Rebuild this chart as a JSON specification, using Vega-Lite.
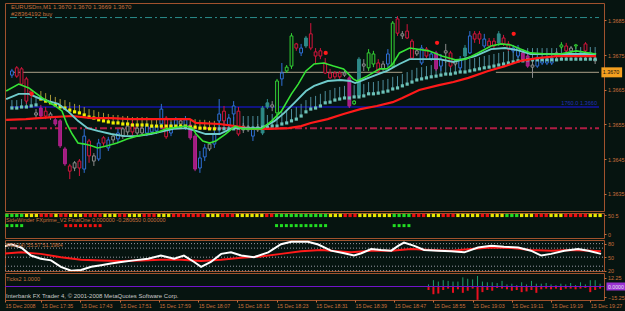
{
"$schema":"https://vega.github.io/schema/vega-lite/v6.json",
"background":"#061410",
"padding":{"left":4,"top":2,"right":6,"bottom":12},
"spacing":2,
"bounds":"flush",
"resolve":{"scale":{"color":"independent","fill":"independent","stroke":"independent","strokeWidth":"independent","strokeDash":"independent"}},
"config":{
 "view":{"stroke":"#a0522d","strokeWidth":1},
 "axis":{"labelFont":"Liberation Sans, sans-serif","labelFontSize":5.4,"labelColor":"#c8703c","tickColor":"#c8703c","tickSize":2,"domain":false,"grid":false,"labelPadding":1.5,"labelOverlap":false,"labelBound":false,"zindex":2},
 "text":{"font":"Liberation Sans, sans-serif","fontSize":5.8}
},
"datasets":{
 "hl":[
  {"name":"tp","v":1.36858,"k1":0.6,"k2":122.8},
  {"name":"open","v":1.3670,"k1":0.6,"k2":82},
  {"name":"open","v":1.3670,"k1":101.4,"k2":122.8},
  {"name":"blue","v":1.3660,"k1":0.6,"k2":122.8},
  {"name":"sl","v":1.36539,"k1":0.6,"k2":122.8}
 ],
 "candles":[
{"k":1,"cls":"b","hi":1.36710,"top":1.36704,"bot":1.36692,"lo":1.36684},
{"k":2,"cls":"r","hi":1.36718,"top":1.36713,"bot":1.36689,"lo":1.36684},
{"k":3,"cls":"r","hi":1.36715,"top":1.36710,"bot":1.36666,"lo":1.36661},
{"k":4,"cls":"r","hi":1.36687,"top":1.36681,"bot":1.36617,"lo":1.36609},
{"k":5,"cls":"r","hi":1.36652,"top":1.36646,"bot":1.36638,"lo":1.36626},
{"k":6,"cls":"g","hi":1.36594,"top":1.36583,"bot":1.36577,"lo":1.36565},
{"k":7,"cls":"m","hi":1.36606,"top":1.36597,"bot":1.36574,"lo":1.36565},
{"k":8,"cls":"r","hi":1.36600,"top":1.36588,"bot":1.36574,"lo":1.36565},
{"k":9,"cls":"g","hi":1.36586,"top":1.36580,"bot":1.36571,"lo":1.36563},
{"k":10,"cls":"m","hi":1.36571,"top":1.36563,"bot":1.36551,"lo":1.36545},
{"k":11,"cls":"m","hi":1.36565,"top":1.36560,"bot":1.36488,"lo":1.36482},
{"k":12,"cls":"m","hi":1.36485,"top":1.36479,"bot":1.36436,"lo":1.36430},
{"k":13,"cls":"r","hi":1.36436,"top":1.36430,"bot":1.36415,"lo":1.36392},
{"k":14,"cls":"g","hi":1.36444,"top":1.36439,"bot":1.36424,"lo":1.36415},
{"k":15,"cls":"r","hi":1.36450,"top":1.36444,"bot":1.36424,"lo":1.36401},
{"k":16,"cls":"b","hi":1.36537,"top":1.36516,"bot":1.36421,"lo":1.36410},
{"k":17,"cls":"r","hi":1.36508,"top":1.36502,"bot":1.36459,"lo":1.36439},
{"k":18,"cls":"g","hi":1.36467,"top":1.36459,"bot":1.36444,"lo":1.36430},
{"k":19,"cls":"b","hi":1.36508,"top":1.36496,"bot":1.36450,"lo":1.36444},
{"k":20,"cls":"r","hi":1.36516,"top":1.36511,"bot":1.36496,"lo":1.36488},
{"k":21,"cls":"b","hi":1.36514,"top":1.36505,"bot":1.36482,"lo":1.36473},
{"k":22,"cls":"g","hi":1.36522,"top":1.36516,"bot":1.36505,"lo":1.36496},
{"k":23,"cls":"b","hi":1.36537,"top":1.36525,"bot":1.36508,"lo":1.36496},
{"k":24,"cls":"g","hi":1.36542,"top":1.36537,"bot":1.36516,"lo":1.36508},
{"k":25,"cls":"g","hi":1.36551,"top":1.36545,"bot":1.36528,"lo":1.36519},
{"k":26,"cls":"r","hi":1.36560,"top":1.36551,"bot":1.36528,"lo":1.36519},
{"k":27,"cls":"g","hi":1.36548,"top":1.36539,"bot":1.36525,"lo":1.36516},
{"k":28,"cls":"g","hi":1.36545,"top":1.36539,"bot":1.36525,"lo":1.36516},
{"k":29,"cls":"b","hi":1.36554,"top":1.36545,"bot":1.36525,"lo":1.36516},
{"k":30,"cls":"b","hi":1.36548,"top":1.36542,"bot":1.36528,"lo":1.36519},
{"k":31,"cls":"b","hi":1.36551,"top":1.36545,"bot":1.36531,"lo":1.36522},
{"k":32,"cls":"b","hi":1.36609,"top":1.36594,"bot":1.36551,"lo":1.36537},
{"k":33,"cls":"r","hi":1.36574,"top":1.36568,"bot":1.36514,"lo":1.36508},
{"k":34,"cls":"b","hi":1.36557,"top":1.36548,"bot":1.36525,"lo":1.36516},
{"k":35,"cls":"b","hi":1.36571,"top":1.36563,"bot":1.36542,"lo":1.36537},
{"k":36,"cls":"g","hi":1.36565,"top":1.36560,"bot":1.36551,"lo":1.36545},
{"k":37,"cls":"b","hi":1.36574,"top":1.36563,"bot":1.36542,"lo":1.36534},
{"k":38,"cls":"m","hi":1.36557,"top":1.36548,"bot":1.36511,"lo":1.36505},
{"k":39,"cls":"m","hi":1.36522,"top":1.36516,"bot":1.36421,"lo":1.36415},
{"k":40,"cls":"b","hi":1.36473,"top":1.36453,"bot":1.36424,"lo":1.36410},
{"k":41,"cls":"b","hi":1.36493,"top":1.36482,"bot":1.36456,"lo":1.36444},
{"k":42,"cls":"g","hi":1.36499,"top":1.36493,"bot":1.36479,"lo":1.36473},
{"k":43,"cls":"b","hi":1.36537,"top":1.36522,"bot":1.36493,"lo":1.36482},
{"k":44,"cls":"b","hi":1.36623,"top":1.36580,"bot":1.36560,"lo":1.36525},
{"k":45,"cls":"r","hi":1.36603,"top":1.36588,"bot":1.36560,"lo":1.36545},
{"k":46,"cls":"b","hi":1.36580,"top":1.36568,"bot":1.36548,"lo":1.36537},
{"k":47,"cls":"b","hi":1.36617,"top":1.36603,"bot":1.36580,"lo":1.36560},
{"k":48,"cls":"r","hi":1.36600,"top":1.36588,"bot":1.36522,"lo":1.36516},
{"k":49,"cls":"g","hi":1.36554,"top":1.36545,"bot":1.36534,"lo":1.36525},
{"k":50,"cls":"g","hi":1.36548,"top":1.36542,"bot":1.36534,"lo":1.36528},
{"k":51,"cls":"b","hi":1.36545,"top":1.36537,"bot":1.36516,"lo":1.36502},
{"k":52,"cls":"g","hi":1.36551,"top":1.36542,"bot":1.36534,"lo":1.36528},
{"k":53,"cls":"t","hi":1.36603,"top":1.36597,"bot":1.36525,"lo":1.36519},
{"k":54,"cls":"t","hi":1.36623,"top":1.36612,"bot":1.36600,"lo":1.36594},
{"k":55,"cls":"g","hi":1.36617,"top":1.36606,"bot":1.36600,"lo":1.36588},
{"k":56,"cls":"G","hi":1.36681,"top":1.36675,"bot":1.36583,"lo":1.36565},
{"k":57,"cls":"b","hi":1.36727,"top":1.36698,"bot":1.36681,"lo":1.36661},
{"k":58,"cls":"G","hi":1.36721,"top":1.36715,"bot":1.36704,"lo":1.36698},
{"k":59,"cls":"G","hi":1.36813,"top":1.36805,"bot":1.36718,"lo":1.36710},
{"k":60,"cls":"r","hi":1.36785,"top":1.36782,"bot":1.36770,"lo":1.36762},
{"k":61,"cls":"b","hi":1.36782,"top":1.36770,"bot":1.36756,"lo":1.36747},
{"k":62,"cls":"t","hi":1.36805,"top":1.36799,"bot":1.36776,"lo":1.36770},
{"k":63,"cls":"r","hi":1.36842,"top":1.36811,"bot":1.36770,"lo":1.36764},
{"k":64,"cls":"r","hi":1.36770,"top":1.36759,"bot":1.36747,"lo":1.36724},
{"k":65,"cls":"r","hi":1.36770,"top":1.36762,"bot":1.36747,"lo":1.36738},
{"k":66,"cls":"r","hi":1.36741,"top":1.36727,"bot":1.36698,"lo":1.36695},
{"k":67,"cls":"r","hi":1.36710,"top":1.36698,"bot":1.36684,"lo":1.36681},
{"k":68,"cls":"r","hi":1.36704,"top":1.36698,"bot":1.36687,"lo":1.36681},
{"k":69,"cls":"r","hi":1.36704,"top":1.36698,"bot":1.36687,"lo":1.36681},
{"k":70,"cls":"g","hi":1.36704,"top":1.36698,"bot":1.36692,"lo":1.36687},
{"k":71,"cls":"m","hi":1.36689,"top":1.36684,"bot":1.36603,"lo":1.36597},
{"k":72,"cls":"G","hi":1.36620,"top":1.36617,"bot":1.36609,"lo":1.36606},
{"k":73,"cls":"t","hi":1.36744,"top":1.36738,"bot":1.36632,"lo":1.36626},
{"k":74,"cls":"g","hi":1.36738,"top":1.36724,"bot":1.36718,"lo":1.36704},
{"k":75,"cls":"G","hi":1.36767,"top":1.36756,"bot":1.36713,"lo":1.36704},
{"k":76,"cls":"G","hi":1.36762,"top":1.36753,"bot":1.36724,"lo":1.36715},
{"k":77,"cls":"r","hi":1.36738,"top":1.36727,"bot":1.36704,"lo":1.36698},
{"k":78,"cls":"g","hi":1.36733,"top":1.36724,"bot":1.36710,"lo":1.36704},
{"k":79,"cls":"b","hi":1.36767,"top":1.36753,"bot":1.36724,"lo":1.36715},
{"k":80,"cls":"G","hi":1.36848,"top":1.36842,"bot":1.36718,"lo":1.36715},
{"k":81,"cls":"r","hi":1.36862,"top":1.36854,"bot":1.36813,"lo":1.36805},
{"k":82,"cls":"g","hi":1.36819,"top":1.36811,"bot":1.36805,"lo":1.36796},
{"k":83,"cls":"r","hi":1.36839,"top":1.36819,"bot":1.36799,"lo":1.36796},
{"k":84,"cls":"r","hi":1.36796,"top":1.36790,"bot":1.36741,"lo":1.36736},
{"k":85,"cls":"g","hi":1.36767,"top":1.36762,"bot":1.36753,"lo":1.36747},
{"k":86,"cls":"b","hi":1.36779,"top":1.36770,"bot":1.36727,"lo":1.36721},
{"k":87,"cls":"r","hi":1.36773,"top":1.36767,"bot":1.36747,"lo":1.36741},
{"k":88,"cls":"b","hi":1.36759,"top":1.36753,"bot":1.36738,"lo":1.36733},
{"k":89,"cls":"m","hi":1.36762,"top":1.36756,"bot":1.36710,"lo":1.36704},
{"k":90,"cls":"b","hi":1.36753,"top":1.36738,"bot":1.36718,"lo":1.36704},
{"k":91,"cls":"g","hi":1.36782,"top":1.36762,"bot":1.36756,"lo":1.36727},
{"k":92,"cls":"r","hi":1.36762,"top":1.36756,"bot":1.36718,"lo":1.36713},
{"k":93,"cls":"g","hi":1.36738,"top":1.36733,"bot":1.36724,"lo":1.36718},
{"k":94,"cls":"b","hi":1.36747,"top":1.36738,"bot":1.36713,"lo":1.36704},
{"k":95,"cls":"t","hi":1.36779,"top":1.36770,"bot":1.36747,"lo":1.36741},
{"k":96,"cls":"b","hi":1.36819,"top":1.36805,"bot":1.36756,"lo":1.36753},
{"k":97,"cls":"r","hi":1.36819,"top":1.36811,"bot":1.36796,"lo":1.36785},
{"k":98,"cls":"r","hi":1.36819,"top":1.36811,"bot":1.36796,"lo":1.36782},
{"k":99,"cls":"b","hi":1.36811,"top":1.36796,"bot":1.36776,"lo":1.36770},
{"k":100,"cls":"r","hi":1.36799,"top":1.36790,"bot":1.36776,"lo":1.36770},
{"k":101,"cls":"r","hi":1.36799,"top":1.36790,"bot":1.36776,"lo":1.36767},
{"k":102,"cls":"t","hi":1.36819,"top":1.36811,"bot":1.36785,"lo":1.36776},
{"k":103,"cls":"r","hi":1.36808,"top":1.36799,"bot":1.36782,"lo":1.36776},
{"k":104,"cls":"r","hi":1.36790,"top":1.36782,"bot":1.36767,"lo":1.36762},
{"k":105,"cls":"b","hi":1.36779,"top":1.36770,"bot":1.36762,"lo":1.36756},
{"k":106,"cls":"b","hi":1.36779,"top":1.36770,"bot":1.36747,"lo":1.36741},
{"k":107,"cls":"m","hi":1.36764,"top":1.36756,"bot":1.36738,"lo":1.36733},
{"k":108,"cls":"m","hi":1.36753,"top":1.36747,"bot":1.36718,"lo":1.36713},
{"k":109,"cls":"g","hi":1.36741,"top":1.36721,"bot":1.36715,"lo":1.36684},
{"k":110,"cls":"b","hi":1.36747,"top":1.36741,"bot":1.36718,"lo":1.36713},
{"k":111,"cls":"b","hi":1.36744,"top":1.36738,"bot":1.36727,"lo":1.36721},
{"k":112,"cls":"b","hi":1.36744,"top":1.36738,"bot":1.36727,"lo":1.36721},
{"k":113,"cls":"b","hi":1.36747,"top":1.36741,"bot":1.36727,"lo":1.36721},
{"k":114,"cls":"g","hi":1.36762,"top":1.36756,"bot":1.36747,"lo":1.36741},
{"k":115,"cls":"G","hi":1.36787,"top":1.36779,"bot":1.36773,"lo":1.36767},
{"k":116,"cls":"r","hi":1.36785,"top":1.36776,"bot":1.36762,"lo":1.36756},
{"k":117,"cls":"g","hi":1.36776,"top":1.36770,"bot":1.36762,"lo":1.36756},
{"k":118,"cls":"G","hi":1.36782,"top":1.36779,"bot":1.36776,"lo":1.36767},
{"k":119,"cls":"b","hi":1.36762,"top":1.36756,"bot":1.36747,"lo":1.36741},
{"k":120,"cls":"r","hi":1.36787,"top":1.36782,"bot":1.36762,"lo":1.36756},
{"k":121,"cls":"t","hi":1.36762,"top":1.36756,"bot":1.36747,"lo":1.36741},
{"k":122,"cls":"g","hi":1.36747,"top":1.36738,"bot":1.36733,"lo":1.36724}
 ],
 "mk":[
{"k":1,"c":"t","v":1.36597,"st":1.36620},{"k":2,"c":"t","v":1.36597,"st":1.36620},{"k":3,"c":"t","v":1.36600,"st":1.36623},{"k":4,"c":"t","v":1.36600,"st":1.36623},{"k":5,"c":"t","v":1.36603,"st":1.36626},{"k":6,"c":"t","v":1.36606,"st":1.36629},
{"k":7,"c":"y","v":1.36623,"st":1.36646},{"k":8,"c":"y","v":1.36617,"st":1.36640},{"k":9,"c":"y","v":1.36612,"st":1.36635},{"k":10,"c":"y","v":1.36606,"st":1.36629},{"k":11,"c":"y","v":1.36600,"st":1.36623},{"k":12,"c":"y","v":1.36597,"st":1.36620},{"k":13,"c":"y","v":1.36591,"st":1.36614},{"k":14,"c":"y","v":1.36586,"st":1.36609},{"k":15,"c":"y","v":1.36583,"st":1.36606},{"k":16,"c":"y","v":1.36577,"st":1.36600},{"k":17,"c":"y","v":1.36571,"st":1.36594},{"k":18,"c":"y","v":1.36568,"st":1.36591},{"k":19,"c":"y","v":1.36563,"st":1.36586},{"k":20,"c":"y","v":1.36560,"st":1.36583},{"k":21,"c":"y","v":1.36557,"st":1.36580},{"k":22,"c":"y","v":1.36554,"st":1.36577},{"k":23,"c":"y","v":1.36554,"st":1.36577},{"k":24,"c":"y","v":1.36551,"st":1.36574},{"k":25,"c":"y","v":1.36551,"st":1.36574},{"k":26,"c":"y","v":1.36548,"st":1.36571},{"k":27,"c":"y","v":1.36548,"st":1.36571},{"k":28,"c":"y","v":1.36548,"st":1.36571},{"k":29,"c":"y","v":1.36548,"st":1.36571},{"k":30,"c":"y","v":1.36545,"st":1.36568},{"k":31,"c":"y","v":1.36545,"st":1.36568},{"k":32,"c":"y","v":1.36545,"st":1.36568},{"k":33,"c":"y","v":1.36545,"st":1.36568},{"k":34,"c":"y","v":1.36545,"st":1.36568},{"k":35,"c":"y","v":1.36545,"st":1.36568},{"k":36,"c":"y","v":1.36545,"st":1.36568},{"k":37,"c":"y","v":1.36545,"st":1.36568},{"k":38,"c":"y","v":1.36542,"st":1.36565},{"k":39,"c":"y","v":1.36542,"st":1.36565},{"k":40,"c":"y","v":1.36539,"st":1.36563},{"k":41,"c":"y","v":1.36539,"st":1.36563},{"k":42,"c":"y","v":1.36537,"st":1.36560},{"k":43,"c":"y","v":1.36537,"st":1.36560},
{"k":44,"c":"t","v":1.36537,"st":1.36571},{"k":45,"c":"t","v":1.36537,"st":1.36571},{"k":46,"c":"t","v":1.36537,"st":1.36571},{"k":47,"c":"t","v":1.36537,"st":1.36571},{"k":48,"c":"t","v":1.36539,"st":1.36574},{"k":49,"c":"t","v":1.36539,"st":1.36574},{"k":50,"c":"t","v":1.36539,"st":1.36574},{"k":51,"c":"t","v":1.36539,"st":1.36574},{"k":52,"c":"t","v":1.36539,"st":1.36574},{"k":53,"c":"t","v":1.36542,"st":1.36577},{"k":54,"c":"t","v":1.36542,"st":1.36577},{"k":55,"c":"t","v":1.36545,"st":1.36580},{"k":56,"c":"t","v":1.36545,"st":1.36580},{"k":57,"c":"t","v":1.36551,"st":1.36586},{"k":58,"c":"t","v":1.36554,"st":1.36588},{"k":59,"c":"t","v":1.36560,"st":1.36594},{"k":60,"c":"t","v":1.36565,"st":1.36600},{"k":61,"c":"t","v":1.36574,"st":1.36609},{"k":62,"c":"t","v":1.36586,"st":1.36620},{"k":63,"c":"t","v":1.36594,"st":1.36629},{"k":64,"c":"t","v":1.36597,"st":1.36632},{"k":65,"c":"t","v":1.36603,"st":1.36638},{"k":66,"c":"t","v":1.36612,"st":1.36646},{"k":67,"c":"t","v":1.36614,"st":1.36649},{"k":68,"c":"t","v":1.36620,"st":1.36655},{"k":69,"c":"t","v":1.36623,"st":1.36658},{"k":70,"c":"t","v":1.36626,"st":1.36661},{"k":71,"c":"t","v":1.36626,"st":1.36661},{"k":72,"c":"t","v":1.36629,"st":1.36663},{"k":73,"c":"t","v":1.36629,"st":1.36663},{"k":74,"c":"t","v":1.36632,"st":1.36666},{"k":75,"c":"t","v":1.36638,"st":1.36672},{"k":76,"c":"t","v":1.36638,"st":1.36672},{"k":77,"c":"t","v":1.36640,"st":1.36675},{"k":78,"c":"t","v":1.36643,"st":1.36678},{"k":79,"c":"t","v":1.36646,"st":1.36681},{"k":80,"c":"t","v":1.36652,"st":1.36687},{"k":81,"c":"t","v":1.36655,"st":1.36689},{"k":82,"c":"t","v":1.36661,"st":1.36695},{"k":83,"c":"t","v":1.36666,"st":1.36701},{"k":84,"c":"t","v":1.36672,"st":1.36707},{"k":85,"c":"t","v":1.36678,"st":1.36713},{"k":86,"c":"t","v":1.36681,"st":1.36715},{"k":87,"c":"t","v":1.36684,"st":1.36718},{"k":88,"c":"t","v":1.36687,"st":1.36721},{"k":89,"c":"t","v":1.36689,"st":1.36724},{"k":90,"c":"t","v":1.36692,"st":1.36727},{"k":91,"c":"t","v":1.36695,"st":1.36730},{"k":92,"c":"t","v":1.36695,"st":1.36730},{"k":93,"c":"t","v":1.36698,"st":1.36733},{"k":94,"c":"t","v":1.36701,"st":1.36736},{"k":95,"c":"t","v":1.36701,"st":1.36736},{"k":96,"c":"t","v":1.36704,"st":1.36738},{"k":97,"c":"t","v":1.36707,"st":1.36741},{"k":98,"c":"t","v":1.36710,"st":1.36744},{"k":99,"c":"t","v":1.36713,"st":1.36747},{"k":100,"c":"t","v":1.36715,"st":1.36750},{"k":101,"c":"t","v":1.36718,"st":1.36753},{"k":102,"c":"t","v":1.36721,"st":1.36756},{"k":103,"c":"t","v":1.36724,"st":1.36759},{"k":104,"c":"t","v":1.36727,"st":1.36762},{"k":105,"c":"t","v":1.36730,"st":1.36764},{"k":106,"c":"t","v":1.36733,"st":1.36767},{"k":107,"c":"t","v":1.36733,"st":1.36767},{"k":108,"c":"t","v":1.36736,"st":1.36770},{"k":109,"c":"t","v":1.36736,"st":1.36770},{"k":110,"c":"t","v":1.36736,"st":1.36770},{"k":111,"c":"t","v":1.36736,"st":1.36770},{"k":112,"c":"t","v":1.36736,"st":1.36770},{"k":113,"c":"t","v":1.36736,"st":1.36770},{"k":114,"c":"t","v":1.36736,"st":1.36770},{"k":115,"c":"t","v":1.36738,"st":1.36773},{"k":116,"c":"t","v":1.36738,"st":1.36773},{"k":117,"c":"t","v":1.36738,"st":1.36773},{"k":118,"c":"t","v":1.36738,"st":1.36773},{"k":119,"c":"t","v":1.36738,"st":1.36773},{"k":120,"c":"t","v":1.36738,"st":1.36773},{"k":121,"c":"t","v":1.36738,"st":1.36773},{"k":122,"c":"t","v":1.36738,"st":1.36773}
 ],
 "ma":[
{"s":"red","k":-0.2,"v":1.36563},{"s":"red","k":3.9,"v":1.36565},{"s":"red","k":6.5,"v":1.36568},{"s":"red","k":9.4,"v":1.36571},{"s":"red","k":13.5,"v":1.36574},{"s":"red","k":17.5,"v":1.36568},{"s":"red","k":21.6,"v":1.36568},{"s":"red","k":25.7,"v":1.36565},{"s":"red","k":29,"v":1.36565},{"s":"red","k":34.5,"v":1.36565},{"s":"red","k":37.9,"v":1.36565},{"s":"red","k":39.2,"v":1.36554},{"s":"red","k":44.1,"v":1.36551},{"s":"red","k":47.3,"v":1.36545},{"s":"red","k":50.8,"v":1.36537},{"s":"red","k":54.3,"v":1.36537},{"s":"red","k":58.4,"v":1.36539},{"s":"red","k":61,"v":1.36545},{"s":"red","k":63,"v":1.36554},{"s":"red","k":66.5,"v":1.36565},{"s":"red","k":69.8,"v":1.36580},{"s":"red","k":73.3,"v":1.36594},{"s":"red","k":76.7,"v":1.36603},{"s":"red","k":80,"v":1.36614},{"s":"red","k":82,"v":1.36626},{"s":"red","k":85.5,"v":1.36649},{"s":"red","k":89.6,"v":1.36663},{"s":"red","k":92.6,"v":1.36672},{"s":"red","k":95.7,"v":1.36684},{"s":"red","k":99.8,"v":1.36704},{"s":"red","k":103.3,"v":1.36718},{"s":"red","k":106.5,"v":1.36733},{"s":"red","k":110,"v":1.36741},{"s":"red","k":114.1,"v":1.36747},{"s":"red","k":118.8,"v":1.36747},{"s":"red","k":122.2,"v":1.36747},
{"s":"teal","k":-0.2,"v":1.36623},{"s":"teal","k":2.4,"v":1.36638},{"s":"teal","k":4.5,"v":1.36638},{"s":"teal","k":6.5,"v":1.36626},{"s":"teal","k":8.6,"v":1.36617},{"s":"teal","k":10.6,"v":1.36609},{"s":"teal","k":12.6,"v":1.36588},{"s":"teal","k":14.7,"v":1.36560},{"s":"teal","k":16.7,"v":1.36539},{"s":"teal","k":18.8,"v":1.36531},{"s":"teal","k":21.6,"v":1.36522},{"s":"teal","k":24.3,"v":1.36516},{"s":"teal","k":26.9,"v":1.36516},{"s":"teal","k":29.8,"v":1.36522},{"s":"teal","k":34.5,"v":1.36537},{"s":"teal","k":37.1,"v":1.36539},{"s":"teal","k":39.2,"v":1.36531},{"s":"teal","k":41.2,"v":1.36522},{"s":"teal","k":44.1,"v":1.36522},{"s":"teal","k":46.7,"v":1.36539},{"s":"teal","k":50.8,"v":1.36539},{"s":"teal","k":52.8,"v":1.36539},{"s":"teal","k":55.5,"v":1.36560},{"s":"teal","k":57.5,"v":1.36583},{"s":"teal","k":59.6,"v":1.36612},{"s":"teal","k":62,"v":1.36646},{"s":"teal","k":63.7,"v":1.36661},{"s":"teal","k":66.5,"v":1.36675},{"s":"teal","k":69.2,"v":1.36678},{"s":"teal","k":71.2,"v":1.36675},{"s":"teal","k":72.2,"v":1.36669},{"s":"teal","k":73.3,"v":1.36675},{"s":"teal","k":75.9,"v":1.36689},{"s":"teal","k":78.8,"v":1.36704},{"s":"teal","k":81.4,"v":1.36724},{"s":"teal","k":83.5,"v":1.36738},{"s":"teal","k":86.1,"v":1.36738},{"s":"teal","k":89.6,"v":1.36738},{"s":"teal","k":92.6,"v":1.36730},{"s":"teal","k":97.1,"v":1.36747},{"s":"teal","k":100.4,"v":1.36767},{"s":"teal","k":103.3,"v":1.36770},{"s":"teal","k":105.9,"v":1.36764},{"s":"teal","k":108.6,"v":1.36753},{"s":"teal","k":112,"v":1.36753},{"s":"teal","k":115.5,"v":1.36753},{"s":"teal","k":118.8,"v":1.36753},{"s":"teal","k":122.2,"v":1.36753},
{"s":"green","k":-0.2,"v":1.36646},{"s":"green","k":2.4,"v":1.36666},{"s":"green","k":4.5,"v":1.36655},{"s":"green","k":7.3,"v":1.36626},{"s":"green","k":10,"v":1.36603},{"s":"green","k":11.4,"v":1.36588},{"s":"green","k":12.4,"v":1.36551},{"s":"green","k":13.5,"v":1.36522},{"s":"green","k":14.7,"v":1.36496},{"s":"green","k":16.1,"v":1.36493},{"s":"green","k":17.5,"v":1.36488},{"s":"green","k":18.8,"v":1.36482},{"s":"green","k":20.8,"v":1.36488},{"s":"green","k":22.8,"v":1.36496},{"s":"green","k":24.9,"v":1.36508},{"s":"green","k":26.9,"v":1.36516},{"s":"green","k":29,"v":1.36522},{"s":"green","k":31.4,"v":1.36528},{"s":"green","k":33,"v":1.36537},{"s":"green","k":37.1,"v":1.36545},{"s":"green","k":38.5,"v":1.36539},{"s":"green","k":39.2,"v":1.36522},{"s":"green","k":40.6,"v":1.36502},{"s":"green","k":42,"v":1.36496},{"s":"green","k":43.3,"v":1.36502},{"s":"green","k":45.3,"v":1.36522},{"s":"green","k":47.3,"v":1.36545},{"s":"green","k":48.8,"v":1.36537},{"s":"green","k":52.8,"v":1.36537},{"s":"green","k":54.9,"v":1.36560},{"s":"green","k":56.9,"v":1.36588},{"s":"green","k":59,"v":1.36638},{"s":"green","k":60.4,"v":1.36666},{"s":"green","k":62,"v":1.36704},{"s":"green","k":63.7,"v":1.36724},{"s":"green","k":65.7,"v":1.36727},{"s":"green","k":67.7,"v":1.36718},{"s":"green","k":69.8,"v":1.36710},{"s":"green","k":71.8,"v":1.36681},{"s":"green","k":72.6,"v":1.36675},{"s":"green","k":74.7,"v":1.36689},{"s":"green","k":77.3,"v":1.36710},{"s":"green","k":78.8,"v":1.36710},{"s":"green","k":80,"v":1.36724},{"s":"green","k":81.4,"v":1.36756},{"s":"green","k":83.5,"v":1.36770},{"s":"green","k":87.5,"v":1.36762},{"s":"green","k":90.2,"v":1.36747},{"s":"green","k":93,"v":1.36736},{"s":"green","k":95.1,"v":1.36738},{"s":"green","k":97.7,"v":1.36756},{"s":"green","k":100.4,"v":1.36776},{"s":"green","k":102.4,"v":1.36782},{"s":"green","k":104.5,"v":1.36779},{"s":"green","k":106.5,"v":1.36767},{"s":"green","k":108.6,"v":1.36756},{"s":"green","k":112,"v":1.36753},{"s":"green","k":114.7,"v":1.36753},{"s":"green","k":118.1,"v":1.36762},{"s":"green","k":120.8,"v":1.36756},{"s":"green","k":122.2,"v":1.36753}
 ],
 "dots":[{"k":5.1,"v":1.36638},{"k":66.1,"v":1.36756},{"k":89.2,"v":1.36785},{"k":105.1,"v":1.36811}],
 "sw":[
{"k":1,"c":"g"},{"k":2,"c":"g"},{"k":3,"c":"g"},{"k":4,"c":"g"},{"k":5,"c":"y"},{"k":6,"c":"y"},{"k":7,"c":"y"},{"k":8,"c":"r"},{"k":9,"c":"r"},{"k":10,"c":"r"},{"k":11,"c":"y"},{"k":12,"c":"r"},{"k":13,"c":"r"},{"k":14,"c":"y"},{"k":15,"c":"y"},{"k":16,"c":"y"},{"k":17,"c":"r"},{"k":18,"c":"r"},{"k":19,"c":"r"},{"k":20,"c":"r"},{"k":21,"c":"y"},{"k":22,"c":"y"},{"k":23,"c":"y"},{"k":24,"c":"r"},{"k":25,"c":"r"},{"k":26,"c":"y"},{"k":27,"c":"y"},{"k":28,"c":"y"},{"k":29,"c":"r"},{"k":30,"c":"r"},{"k":31,"c":"r"},{"k":32,"c":"y"},{"k":33,"c":"y"},{"k":34,"c":"y"},{"k":35,"c":"r"},{"k":36,"c":"r"},{"k":37,"c":"r"},{"k":38,"c":"r"},{"k":39,"c":"r"},{"k":40,"c":"r"},{"k":41,"c":"r"},{"k":42,"c":"y"},{"k":43,"c":"y"},{"k":44,"c":"y"},{"k":45,"c":"r"},{"k":46,"c":"r"},{"k":47,"c":"r"},{"k":48,"c":"y"},{"k":49,"c":"y"},{"k":50,"c":"y"},{"k":51,"c":"y"},{"k":52,"c":"y"},{"k":53,"c":"y"},{"k":54,"c":"r"},{"k":55,"c":"r"},{"k":56,"c":"g"},{"k":57,"c":"g"},{"k":58,"c":"g"},{"k":59,"c":"g"},{"k":60,"c":"g"},{"k":61,"c":"g"},{"k":62,"c":"g"},{"k":63,"c":"g"},{"k":64,"c":"g"},{"k":65,"c":"g"},{"k":66,"c":"g"},{"k":67,"c":"y"},{"k":68,"c":"y"},{"k":69,"c":"y"},{"k":70,"c":"r"},{"k":71,"c":"r"},{"k":72,"c":"r"},{"k":73,"c":"y"},{"k":74,"c":"y"},{"k":75,"c":"y"},{"k":76,"c":"y"},{"k":77,"c":"y"},{"k":78,"c":"y"},{"k":79,"c":"y"},{"k":80,"c":"g"},{"k":81,"c":"g"},{"k":82,"c":"g"},{"k":83,"c":"g"},{"k":84,"c":"r"},{"k":85,"c":"r"},{"k":86,"c":"r"},{"k":87,"c":"y"},{"k":88,"c":"y"},{"k":89,"c":"y"},{"k":90,"c":"r"},{"k":91,"c":"r"},{"k":92,"c":"r"},{"k":93,"c":"y"},{"k":94,"c":"y"},{"k":95,"c":"y"},{"k":96,"c":"y"},{"k":97,"c":"y"},{"k":98,"c":"r"},{"k":99,"c":"r"},{"k":100,"c":"y"},{"k":101,"c":"y"},{"k":102,"c":"y"},{"k":103,"c":"g"},{"k":104,"c":"g"},{"k":105,"c":"g"},{"k":106,"c":"y"},{"k":107,"c":"y"},{"k":108,"c":"y"},{"k":109,"c":"r"},{"k":110,"c":"r"},{"k":111,"c":"r"},{"k":112,"c":"y"},{"k":113,"c":"y"},{"k":114,"c":"y"},{"k":115,"c":"r"},{"k":116,"c":"r"},{"k":117,"c":"r"},{"k":118,"c":"r"},{"k":119,"c":"r"},{"k":120,"c":"y"},{"k":121,"c":"y"},{"k":122,"c":"y"}
 ],
 "swd":[
{"k":1,"c":"g"},{"k":2,"c":"g"},{"k":3,"c":"g"},{"k":4,"c":"g"},
{"k":13,"c":"r"},{"k":14,"c":"r"},{"k":15,"c":"r"},{"k":16,"c":"r"},{"k":17,"c":"r"},{"k":18,"c":"r"},{"k":19,"c":"r"},{"k":20,"c":"r"},
{"k":56,"c":"g"},{"k":57,"c":"g"},{"k":58,"c":"g"},{"k":59,"c":"g"},{"k":60,"c":"g"},{"k":61,"c":"g"},{"k":62,"c":"g"},{"k":63,"c":"g"},{"k":64,"c":"g"},{"k":65,"c":"g"},{"k":66,"c":"g"},
{"k":80,"c":"g"},{"k":81,"c":"g"},{"k":82,"c":"g"},{"k":83,"c":"g"}
 ],
 "lv":[{"v":80},{"v":70},{"v":50},{"v":30},{"v":20}],
 "osc":[
{"s":"r","k":-0.2,"v":57.3},{"s":"r","k":3.9,"v":60.7},{"s":"r","k":7.9,"v":57.3},{"s":"r","k":12,"v":50},{"s":"r","k":16.1,"v":44.4},{"s":"r","k":20.2,"v":42.9},{"s":"r","k":24.3,"v":41.4},{"s":"r","k":28.4,"v":42.9},{"s":"r","k":32.4,"v":44.4},{"s":"r","k":36.5,"v":44.4},{"s":"r","k":40.6,"v":41.4},{"s":"r","k":44.7,"v":44.4},{"s":"r","k":48.8,"v":48.7},{"s":"r","k":52.8,"v":51.5},{"s":"r","k":56.9,"v":57.3},{"s":"r","k":61,"v":62.9},{"s":"r","k":65.1,"v":65.9},{"s":"r","k":71.2,"v":60.7},{"s":"r","k":75.3,"v":64.4},{"s":"r","k":79.4,"v":64.4},{"s":"r","k":83.5,"v":68},{"s":"r","k":87.5,"v":65.9},{"s":"r","k":91.6,"v":64.4},{"s":"r","k":95.7,"v":68},{"s":"r","k":99.8,"v":71.4},{"s":"r","k":103.9,"v":70.2},{"s":"r","k":107.9,"v":65.9},{"s":"r","k":112,"v":64.4},{"s":"r","k":116.1,"v":65.9},{"s":"r","k":120.2,"v":64.4},{"s":"r","k":122.2,"v":62.9},
{"s":"w","k":-0.2,"v":71.4},{"s":"w","k":1.8,"v":78.7},{"s":"w","k":3.9,"v":71.4},{"s":"w","k":5.9,"v":53.6},{"s":"w","k":7.9,"v":46.6},{"s":"w","k":10,"v":42.9},{"s":"w","k":12,"v":28.6},{"s":"w","k":14.1,"v":20},{"s":"w","k":16.1,"v":21.5},{"s":"w","k":18.2,"v":28.6},{"s":"w","k":20.2,"v":32.2},{"s":"w","k":22.2,"v":35.9},{"s":"w","k":24.3,"v":39.3},{"s":"w","k":26.9,"v":42.9},{"s":"w","k":29.8,"v":46.6},{"s":"w","k":32.4,"v":53.6},{"s":"w","k":35.1,"v":46.6},{"s":"w","k":37.1,"v":53.6},{"s":"w","k":39.2,"v":39.3},{"s":"w","k":40.6,"v":28.6},{"s":"w","k":42.6,"v":39.3},{"s":"w","k":44.7,"v":57.3},{"s":"w","k":46.7,"v":60.7},{"s":"w","k":48.8,"v":53.6},{"s":"w","k":51.4,"v":50},{"s":"w","k":54.3,"v":60.7},{"s":"w","k":56.9,"v":78.7},{"s":"w","k":59,"v":84.3},{"s":"w","k":62.4,"v":84.3},{"s":"w","k":64.5,"v":78},{"s":"w","k":67.1,"v":64.4},{"s":"w","k":69.8,"v":58.6},{"s":"w","k":71.8,"v":53.6},{"s":"w","k":73.3,"v":58.6},{"s":"w","k":75.3,"v":68},{"s":"w","k":77.3,"v":65.9},{"s":"w","k":79.4,"v":64.4},{"s":"w","k":80.8,"v":75.1},{"s":"w","k":82,"v":82.1},{"s":"w","k":84.1,"v":75.1},{"s":"w","k":86.1,"v":65.9},{"s":"w","k":89,"v":64.4},{"s":"w","k":91.6,"v":62.9},{"s":"w","k":94.3,"v":60.7},{"s":"w","k":97.1,"v":71.4},{"s":"w","k":99.8,"v":75.1},{"s":"w","k":102.4,"v":72.9},{"s":"w","k":105.3,"v":71.4},{"s":"w","k":107.9,"v":64.4},{"s":"w","k":110,"v":53.6},{"s":"w","k":112,"v":57.3},{"s":"w","k":114.7,"v":64.4},{"s":"w","k":117.5,"v":68},{"s":"w","k":119.6,"v":64.4},{"s":"w","k":122.2,"v":57.3}
 ],
 "tk":[
{"k":87,"up":3,"dn":-5},{"k":88,"up":9,"dn":-11},{"k":89,"up":7,"dn":-10},{"k":90,"up":9,"dn":-5},{"k":91,"up":8,"dn":-3},{"k":92,"up":7,"dn":-9},{"k":93,"up":7,"dn":-4},{"k":94,"up":13,"dn":-9},{"k":95,"up":11,"dn":-6},{"k":96,"up":10,"dn":-3},{"k":97,"up":15,"dn":-19},{"k":98,"up":7,"dn":-8},{"k":99,"up":6,"dn":-5},{"k":100,"up":6,"dn":-6},{"k":101,"up":5,"dn":-2},{"k":102,"up":8,"dn":-3},{"k":103,"up":3,"dn":-4},{"k":104,"up":4,"dn":-6},{"k":105,"up":2,"dn":-5},{"k":106,"up":6,"dn":-8},{"k":107,"up":3,"dn":-7},{"k":108,"up":8,"dn":-5},{"k":109,"up":4,"dn":-9},{"k":110,"up":4,"dn":-4},{"k":111,"up":5,"dn":-3},{"k":112,"up":3,"dn":-4},{"k":113,"up":2,"dn":-3},{"k":114,"up":4,"dn":-5},{"k":115,"up":3,"dn":-3},{"k":116,"up":5,"dn":-3},{"k":117,"up":2,"dn":-4},{"k":118,"up":6,"dn":-3},{"k":119,"up":3,"dn":-2},{"k":120,"up":9,"dn":-8},{"k":121,"up":9,"dn":-5},{"k":122,"up":4,"dn":-3}
 ],
 "zero":[{"v":0}]
},
"vconcat":[
{
 "width":599,"height":208,
 "resolve":{"scale":{"color":"independent","fill":"independent","stroke":"independent","strokeWidth":"independent","strokeDash":"independent"}},
 "layer":[
  {"data":{"name":"hl"},"mark":{"type":"rule"},
   "encoding":{
    "x":{"field":"k1","type":"quantitative","scale":{"domain":[0.6,122.8],"nice":false,"zero":false},"axis":null},
    "x2":{"field":"k2"},
    "y":{"field":"v","type":"quantitative","scale":{"domain":[1.3630,1.3690],"nice":false,"zero":false},"axis":{"orient":"right","values":[1.3635,1.3645,1.3655,1.3665,1.3675,1.3685],"format":".4f","title":null,"labelColor":"#c8703c"}},
    "color":{"field":"name","type":"nominal","scale":{"domain":["tp","open","blue","sl"],"range":["#2a8c8c","#8a8470","#1414a8","#b01c44"]},"legend":null},
    "strokeDash":{"field":"name","type":"nominal","scale":{"domain":["tp","open","blue","sl"],"range":[[7,3,2,3],[1,0],[1,0],[7,3,2,3]]},"legend":null},
    "strokeWidth":{"field":"name","type":"nominal","scale":{"domain":["tp","open","blue","sl"],"range":[1,2,1.5,1]},"legend":null}
   }},
  {"data":{"name":"mk"},"mark":{"type":"rule","strokeWidth":1},
   "encoding":{
    "x":{"field":"k","type":"quantitative","scale":{"domain":[0.6,122.8],"nice":false,"zero":false},"axis":null},
    "y":{"field":"v","type":"quantitative","scale":{"domain":[1.3630,1.3690],"nice":false,"zero":false},"axis":{"orient":"right","values":[1.3635,1.3645,1.3655,1.3665,1.3675,1.3685],"format":".4f","title":null,"labelColor":"#c8703c"}},
    "y2":{"field":"st"},
    "color":{"field":"c","type":"nominal","scale":{"domain":["y","t"],"range":["#a89838","#4e8c9c"]},"legend":null}
   }},
  {"data":{"name":"candles"},"mark":{"type":"rule","strokeWidth":1},
   "encoding":{
    "x":{"field":"k","type":"quantitative","scale":{"domain":[0.6,122.8],"nice":false,"zero":false},"axis":null},
    "y":{"field":"lo","type":"quantitative","scale":{"domain":[1.3630,1.3690],"nice":false,"zero":false},"axis":{"orient":"right","values":[1.3635,1.3645,1.3655,1.3665,1.3675,1.3685],"format":".4f","title":null,"labelColor":"#c8703c"}},
    "y2":{"field":"hi"},
    "color":{"field":"cls","type":"nominal","scale":{"domain":["b","r","g","G","m","t"],"range":["#2f6fd6","#d4143c","#8c8c8c","#34d234","#b4228c","#2e8a88"]},"legend":null}
   }},
  {"data":{"name":"candles"},"mark":{"type":"bar","orient":"vertical","width":2.8,"strokeWidth":1},
   "encoding":{
    "x":{"field":"k","type":"quantitative","stack":null,"scale":{"domain":[0.6,122.8],"nice":false,"zero":false},"axis":null},
    "y":{"field":"bot","type":"quantitative","stack":null,"scale":{"domain":[1.3630,1.3690],"nice":false,"zero":false},"axis":{"orient":"right","values":[1.3635,1.3645,1.3655,1.3665,1.3675,1.3685],"format":".4f","title":null,"labelColor":"#c8703c"}},
    "y2":{"field":"top"},
    "fill":{"field":"cls","type":"nominal","scale":{"domain":["b","r","g","G","m","t"],"range":["#061410","#061410","#061410","#061410","#a01e82","#2e8a88"]},"legend":null},
    "stroke":{"field":"cls","type":"nominal","scale":{"domain":["b","r","g","G","m","t"],"range":["#2f6fd6","#d4143c","#8c8c8c","#34d234","#b4228c","#2e8a88"]},"legend":null}
   }},
  {"data":{"name":"mk"},"mark":{"type":"square","size":10,"opacity":1},
   "encoding":{
    "x":{"field":"k","type":"quantitative","scale":{"domain":[0.6,122.8],"nice":false,"zero":false},"axis":null},
    "y":{"field":"v","type":"quantitative","scale":{"domain":[1.3630,1.3690],"nice":false,"zero":false},"axis":{"orient":"right","values":[1.3635,1.3645,1.3655,1.3665,1.3675,1.3685],"format":".4f","title":null,"labelColor":"#c8703c"}},
    "fill":{"field":"c","type":"nominal","scale":{"domain":["y","t"],"range":["#f0f000","#6cc2b8"]},"legend":null}
   }},
  {"data":{"name":"ma"},"mark":{"type":"line","clip":true},
   "encoding":{
    "x":{"field":"k","type":"quantitative","scale":{"domain":[0.6,122.8],"nice":false,"zero":false},"axis":null},
    "y":{"field":"v","type":"quantitative","scale":{"domain":[1.3630,1.3690],"nice":false,"zero":false},"axis":{"orient":"right","values":[1.3635,1.3645,1.3655,1.3665,1.3675,1.3685],"format":".4f","title":null,"labelColor":"#c8703c"}},
    "stroke":{"field":"s","type":"nominal","scale":{"domain":["red","teal","green"],"range":["#ff1a1a","#70cccc","#36e336"]},"legend":null},
    "strokeWidth":{"field":"s","type":"nominal","scale":{"domain":["red","teal","green"],"range":[2.2,1.6,1.6]},"legend":null}
   }},
  {"data":{"name":"dots"},"mark":{"type":"circle","size":18,"opacity":1,"color":"#ff1a1a"},
   "encoding":{
    "x":{"field":"k","type":"quantitative","scale":{"domain":[0.6,122.8],"nice":false,"zero":false},"axis":null},
    "y":{"field":"v","type":"quantitative","scale":{"domain":[1.3630,1.3690],"nice":false,"zero":false},"axis":{"orient":"right","values":[1.3635,1.3645,1.3655,1.3665,1.3675,1.3685],"format":".4f","title":null,"labelColor":"#c8703c"}}
   }},
  {"data":{"name":"zero"},"mark":{"type":"text","align":"left","baseline":"middle","color":"#c8703c","fontSize":6,"text":"EURUSDm,M1  1.3670 1.3670 1.3669 1.3670"},
   "encoding":{
    "x":{"datum":0.8,"type":"quantitative","scale":{"domain":[0.6,122.8],"nice":false,"zero":false},"axis":null},
    "y":{"datum":1.36888,"type":"quantitative","scale":{"domain":[1.3630,1.3690],"nice":false,"zero":false},"axis":{"orient":"right","values":[1.3635,1.3645,1.3655,1.3665,1.3675,1.3685],"format":".4f","title":null,"labelColor":"#c8703c"}}
   }},
  {"data":{"name":"zero"},"mark":{"type":"text","align":"left","baseline":"middle","color":"#c8703c","fontSize":6,"text":"#28364192 buy"},
   "encoding":{
    "x":{"datum":0.8,"type":"quantitative","scale":{"domain":[0.6,122.8],"nice":false,"zero":false},"axis":null},
    "y":{"datum":1.36868,"type":"quantitative","scale":{"domain":[1.3630,1.3690],"nice":false,"zero":false},"axis":{"orient":"right","values":[1.3635,1.3645,1.3655,1.3665,1.3675,1.3685],"format":".4f","title":null,"labelColor":"#c8703c"}}
   }},
  {"data":{"name":"zero"},"mark":{"type":"text","align":"right","baseline":"bottom","dy":-1,"color":"#2030b8","fontSize":5.6,"text":"1760.0        1.3660"},
   "encoding":{
    "x":{"datum":122.4,"type":"quantitative","scale":{"domain":[0.6,122.8],"nice":false,"zero":false},"axis":null},
    "y":{"datum":1.3660,"type":"quantitative","scale":{"domain":[1.3630,1.3690],"nice":false,"zero":false},"axis":{"orient":"right","values":[1.3635,1.3645,1.3655,1.3665,1.3675,1.3685],"format":".4f","title":null,"labelColor":"#c8703c"}}
   }},
  {"data":{"name":"zero"},"mark":{"type":"rule","color":"#f4a020","strokeWidth":10},
   "encoding":{
    "x":{"datum":123.3,"type":"quantitative","scale":{"domain":[0.6,122.8],"nice":false,"zero":false},"axis":null},
    "x2":{"datum":127.6},
    "y":{"datum":1.3670,"type":"quantitative","scale":{"domain":[1.3630,1.3690],"nice":false,"zero":false},"axis":{"orient":"right","values":[1.3635,1.3645,1.3655,1.3665,1.3675,1.3685],"format":".4f","title":null,"labelColor":"#c8703c"}}
   }},
  {"data":{"name":"zero"},"mark":{"type":"text","align":"left","baseline":"middle","color":"#101010","fontSize":5.4,"text":"1.3670"},
   "encoding":{
    "x":{"datum":123.6,"type":"quantitative","scale":{"domain":[0.6,122.8],"nice":false,"zero":false},"axis":null},
    "y":{"datum":1.3670,"type":"quantitative","scale":{"domain":[1.3630,1.3690],"nice":false,"zero":false},"axis":{"orient":"right","values":[1.3635,1.3645,1.3655,1.3665,1.3675,1.3685],"format":".4f","title":null,"labelColor":"#c8703c"}}
   }}
 ]
},
{
 "width":599,"height":25,
 "resolve":{"scale":{"color":"independent","fill":"independent"}},
 "layer":[
  {"data":{"name":"sw"},"mark":{"type":"square","size":11,"opacity":1},
   "encoding":{
    "x":{"field":"k","type":"quantitative","scale":{"domain":[0.6,122.8],"nice":false,"zero":false},"axis":null},
    "y":{"datum":50.5,"type":"quantitative","scale":{"domain":[-10.4,57],"nice":false,"zero":false},"axis":{"orient":"right","values":[0,50.5],"labelExpr":"datum.value == 0 ? '0' : '50.5'","title":null,"labelColor":"#c8703c"}},
    "fill":{"field":"c","type":"nominal","scale":{"domain":["g","y","r"],"range":["#22dd22","#e8e800","#ee1111"]},"legend":null}
   }},
  {"data":{"name":"swd"},"mark":{"type":"square","size":9,"opacity":1},
   "encoding":{
    "x":{"field":"k","type":"quantitative","scale":{"domain":[0.6,122.8],"nice":false,"zero":false},"axis":null},
    "y":{"datum":23,"type":"quantitative","scale":{"domain":[-10.4,57],"nice":false,"zero":false},"axis":{"orient":"right","values":[0,50.5],"labelExpr":"datum.value == 0 ? '0' : '50.5'","title":null,"labelColor":"#c8703c"}},
    "color":{"field":"c","type":"nominal","scale":{"domain":["g","y","r"],"range":["#22dd22","#e8e800","#ee1111"]},"legend":null}
   }},
  {"data":{"name":"zero"},"mark":{"type":"text","align":"left","baseline":"middle","color":"#c8703c","fontSize":5.5,"text":"SideWinder  FXprime_V2 FinalOne 0.000000 -0.280650 0.000000"},
   "encoding":{
    "x":{"datum":0.8,"type":"quantitative","scale":{"domain":[0.6,122.8],"nice":false,"zero":false},"axis":null},
    "y":{"datum":37.5,"type":"quantitative","scale":{"domain":[-10.4,57],"nice":false,"zero":false},"axis":{"orient":"right","values":[0,50.5],"labelExpr":"datum.value == 0 ? '0' : '50.5'","title":null,"labelColor":"#c8703c"}}
   }}
 ]
},
{
 "width":599,"height":31,
 "layer":[
  {"data":{"name":"lv"},"mark":{"type":"rule","strokeDash":[1,2],"color":"#9a9aa6","strokeWidth":1},
   "encoding":{
    "x":{"datum":0.6,"type":"quantitative","scale":{"domain":[0.6,122.8],"nice":false,"zero":false},"axis":null},
    "x2":{"datum":122.8},
    "y":{"field":"v","type":"quantitative","scale":{"domain":[19.4,88],"nice":false,"zero":false},"axis":{"orient":"right","values":[20,50,80],"title":null,"labelColor":"#c8703c"}}
   }},
  {"data":{"name":"osc"},"mark":{"type":"line","clip":true,"strokeWidth":2},
   "encoding":{
    "x":{"field":"k","type":"quantitative","scale":{"domain":[0.6,122.8],"nice":false,"zero":false},"axis":null},
    "y":{"field":"v","type":"quantitative","scale":{"domain":[19.4,88],"nice":false,"zero":false},"axis":{"orient":"right","values":[20,50,80],"title":null,"labelColor":"#c8703c"}},
    "stroke":{"field":"s","type":"nominal","scale":{"domain":["r","w"],"range":["#ff1a1a","#ffffff"]},"legend":null}
   }},
  {"data":{"name":"zero"},"mark":{"type":"text","align":"left","baseline":"middle","color":"#c8703c","fontSize":5.6,"text":"RSI(14) 55.57 51.1964"},
   "encoding":{
    "x":{"datum":0.8,"type":"quantitative","scale":{"domain":[0.6,122.8],"nice":false,"zero":false},"axis":null},
    "y":{"datum":78,"type":"quantitative","scale":{"domain":[19.4,88],"nice":false,"zero":false},"axis":{"orient":"right","values":[20,50,80],"title":null,"labelColor":"#c8703c"}}
   }}
 ]
},
{
 "width":599,"height":27,
 "layer":[
  {"data":{"name":"tk"},"mark":{"type":"rule","color":"#1e9e6e","strokeWidth":1},
   "encoding":{
    "x":{"field":"k","type":"quantitative","scale":{"domain":[0.6,122.8],"nice":false,"zero":false},"axis":{"values":[0.6,8,16,24,32,40,48,56,64,72,80,88,96,104,112,120],"labelExpr":"datum.value < 1 ? '15 Dec 2008' : '15 Dec ' + (17 + floor((datum.value + 27) / 60)) + ':' + ((datum.value + 27) % 60 < 10 ? '0' : '') + ((datum.value + 27) % 60)","labelAlign":"left","labelPadding":1,"labelFontSize":5.3,"tickSize":2,"title":null,"labelFlush":false,"labelColor":"#c8703c"}},
    "y":{"field":"up","type":"quantitative","scale":{"domain":[-19.2,19.2],"nice":false,"zero":false},"axis":{"orient":"right","values":[-15.25,12.25],"labelExpr":"format(datum.value, '.2f')","title":null,"labelColor":"#c8703c"}},
    "y2":{"datum":0}
   }},
  {"data":{"name":"tk"},"mark":{"type":"rule","color":"#e81020","strokeWidth":2},
   "encoding":{
    "x":{"field":"k","type":"quantitative","scale":{"domain":[0.6,122.8],"nice":false,"zero":false},"axis":{"values":[0.6,8,16,24,32,40,48,56,64,72,80,88,96,104,112,120],"labelExpr":"datum.value < 1 ? '15 Dec 2008' : '15 Dec ' + (17 + floor((datum.value + 27) / 60)) + ':' + ((datum.value + 27) % 60 < 10 ? '0' : '') + ((datum.value + 27) % 60)","labelAlign":"left","labelPadding":1,"labelFontSize":5.3,"tickSize":2,"title":null,"labelFlush":false,"labelColor":"#c8703c"}},
    "y":{"field":"dn","type":"quantitative","scale":{"domain":[-19.2,19.2],"nice":false,"zero":false},"axis":{"orient":"right","values":[-15.25,12.25],"labelExpr":"format(datum.value, '.2f')","title":null,"labelColor":"#c8703c"}},
    "y2":{"datum":0}
   }},
  {"data":{"name":"zero"},"mark":{"type":"rule","color":"#7014c8","strokeWidth":1},
   "encoding":{
    "x":{"datum":0.6,"type":"quantitative","scale":{"domain":[0.6,122.8],"nice":false,"zero":false},"axis":{"values":[0.6,8,16,24,32,40,48,56,64,72,80,88,96,104,112,120],"labelExpr":"datum.value < 1 ? '15 Dec 2008' : '15 Dec ' + (17 + floor((datum.value + 27) / 60)) + ':' + ((datum.value + 27) % 60 < 10 ? '0' : '') + ((datum.value + 27) % 60)","labelAlign":"left","labelPadding":1,"labelFontSize":5.3,"tickSize":2,"title":null,"labelFlush":false,"labelColor":"#c8703c"}},
    "x2":{"datum":122.8},
    "y":{"field":"v","type":"quantitative","scale":{"domain":[-19.2,19.2],"nice":false,"zero":false},"axis":{"orient":"right","values":[-15.25,12.25],"labelExpr":"format(datum.value, '.2f')","title":null,"labelColor":"#c8703c"}}
   }},
  {"data":{"name":"zero"},"mark":{"type":"rule","color":"#9a32d2","strokeWidth":8},
   "encoding":{
    "x":{"datum":123.3,"type":"quantitative","scale":{"domain":[0.6,122.8],"nice":false,"zero":false},"axis":{"values":[0.6,8,16,24,32,40,48,56,64,72,80,88,96,104,112,120],"labelExpr":"datum.value < 1 ? '15 Dec 2008' : '15 Dec ' + (17 + floor((datum.value + 27) / 60)) + ':' + ((datum.value + 27) % 60 < 10 ? '0' : '') + ((datum.value + 27) % 60)","labelAlign":"left","labelPadding":1,"labelFontSize":5.3,"tickSize":2,"title":null,"labelFlush":false,"labelColor":"#c8703c"}},
    "x2":{"datum":127.6},
    "y":{"datum":0,"type":"quantitative","scale":{"domain":[-19.2,19.2],"nice":false,"zero":false},"axis":{"orient":"right","values":[-15.25,12.25],"labelExpr":"format(datum.value, '.2f')","title":null,"labelColor":"#c8703c"}}
   }},
  {"data":{"name":"zero"},"mark":{"type":"text","align":"left","baseline":"middle","color":"#e6e0f0","fontSize":5.2,"text":"0.0000"},
   "encoding":{
    "x":{"datum":123.6,"type":"quantitative","scale":{"domain":[0.6,122.8],"nice":false,"zero":false},"axis":{"values":[0.6,8,16,24,32,40,48,56,64,72,80,88,96,104,112,120],"labelExpr":"datum.value < 1 ? '15 Dec 2008' : '15 Dec ' + (17 + floor((datum.value + 27) / 60)) + ':' + ((datum.value + 27) % 60 < 10 ? '0' : '') + ((datum.value + 27) % 60)","labelAlign":"left","labelPadding":1,"labelFontSize":5.3,"tickSize":2,"title":null,"labelFlush":false,"labelColor":"#c8703c"}},
    "y":{"datum":0,"type":"quantitative","scale":{"domain":[-19.2,19.2],"nice":false,"zero":false},"axis":{"orient":"right","values":[-15.25,12.25],"labelExpr":"format(datum.value, '.2f')","title":null,"labelColor":"#c8703c"}}
   }},
  {"data":{"name":"zero"},"mark":{"type":"text","align":"left","baseline":"middle","color":"#c8703c","fontSize":5.5,"text":"Ticks2 1.0000"},
   "encoding":{
    "x":{"datum":0.8,"type":"quantitative","scale":{"domain":[0.6,122.8],"nice":false,"zero":false},"axis":{"values":[0.6,8,16,24,32,40,48,56,64,72,80,88,96,104,112,120],"labelExpr":"datum.value < 1 ? '15 Dec 2008' : '15 Dec ' + (17 + floor((datum.value + 27) / 60)) + ':' + ((datum.value + 27) % 60 < 10 ? '0' : '') + ((datum.value + 27) % 60)","labelAlign":"left","labelPadding":1,"labelFontSize":5.3,"tickSize":2,"title":null,"labelFlush":false,"labelColor":"#c8703c"}},
    "y":{"datum":10.3,"type":"quantitative","scale":{"domain":[-19.2,19.2],"nice":false,"zero":false},"axis":{"orient":"right","values":[-15.25,12.25],"labelExpr":"format(datum.value, '.2f')","title":null,"labelColor":"#c8703c"}}
   }},
  {"data":{"name":"zero"},"mark":{"type":"text","align":"left","baseline":"middle","color":"#c8c8c8","fontSize":6,"text":"Interbank FX Trader 4, © 2001-2008 MetaQuotes Software Corp."},
   "encoding":{
    "x":{"datum":0.8,"type":"quantitative","scale":{"domain":[0.6,122.8],"nice":false,"zero":false},"axis":{"values":[0.6,8,16,24,32,40,48,56,64,72,80,88,96,104,112,120],"labelExpr":"datum.value < 1 ? '15 Dec 2008' : '15 Dec ' + (17 + floor((datum.value + 27) / 60)) + ':' + ((datum.value + 27) % 60 < 10 ? '0' : '') + ((datum.value + 27) % 60)","labelAlign":"left","labelPadding":1,"labelFontSize":5.3,"tickSize":2,"title":null,"labelFlush":false,"labelColor":"#c8703c"}},
    "y":{"datum":-13.3,"type":"quantitative","scale":{"domain":[-19.2,19.2],"nice":false,"zero":false},"axis":{"orient":"right","values":[-15.25,12.25],"labelExpr":"format(datum.value, '.2f')","title":null,"labelColor":"#c8703c"}}
   }}
 ]
}
]
}
